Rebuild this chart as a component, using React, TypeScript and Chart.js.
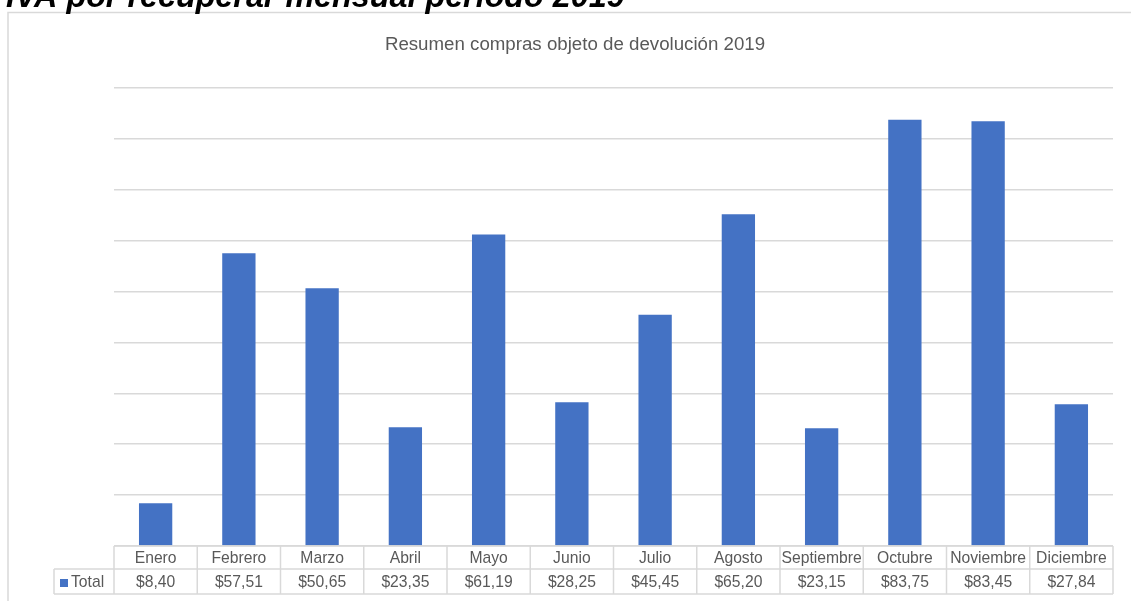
import React, { useEffect, useRef } from "react";
import { Chart, registerables } from "chart.js";

Chart.register(...registerables);

const pageTitle = "IVA por recuperar mensual período 2019";
const chartTitle = "Resumen compras objeto de devolución 2019";
const seriesName = "Total";
const months = [
  "Enero", "Febrero", "Marzo", "Abril", "Mayo", "Junio",
  "Julio", "Agosto", "Septiembre", "Octubre", "Noviembre", "Diciembre",
];
const totals = [8.4, 57.51, 50.65, 23.35, 61.19, 28.25, 45.45, 65.2, 23.15, 83.75, 83.45, 27.84];
const valueLabels = [
  "$8,40", "$57,51", "$50,65", "$23,35", "$61,19", "$28,25",
  "$45,45", "$65,20", "$23,15", "$83,75", "$83,45", "$27,84",
];
const yMax = 90;
const yStep = 10;

const BAR = "#4472C4";
const LINE = "#d9d9d9";
const TEXT = "#595959";
const FONT = '"Liberation Sans", Arial, sans-serif';

const overlay = {
  id: "overlay",
  beforeDraw(chart: any) {
    const ctx = chart.ctx;
    ctx.save();
    ctx.fillStyle = "#ffffff";
    ctx.fillRect(0, 0, chart.width, chart.height);
    ctx.restore();
  },
  afterDraw(chart: any) {
    const ctx = chart.ctx;
    const xs = chart.scales.x;
    const area = chart.chartArea;
    ctx.save();
    // outer chart border
    ctx.strokeStyle = LINE;
    ctx.lineWidth = 1.5;
    ctx.strokeRect(8, 12.5, 1200, 700);

    // page title (cut off at top)
    ctx.fillStyle = "#000000";
    ctx.font = `italic bold 32.3px ${FONT}`;
    ctx.textAlign = "left";
    ctx.textBaseline = "alphabetic";
    ctx.fillText(pageTitle, 6, 7);

    // chart title
    ctx.fillStyle = TEXT;
    ctx.font = `18.7px ${FONT}`;
    ctx.textAlign = "center";
    ctx.textBaseline = "middle";
    ctx.fillText(chartTitle, 575, 45);

    // data table
    const top = area.bottom;
    const mid = top + 23;
    const bot = mid + 25;
    const left = area.left;
    const right = area.right;
    const hdrLeft = 54;
    const n = months.length;
    const cw = (right - left) / n;

    ctx.strokeStyle = LINE;
    ctx.lineWidth = 1.5;
    ctx.beginPath();
    ctx.moveTo(left, top);
    ctx.lineTo(right, top);
    ctx.moveTo(hdrLeft, mid);
    ctx.lineTo(right, mid);
    ctx.moveTo(hdrLeft, bot);
    ctx.lineTo(right, bot);
    ctx.moveTo(hdrLeft, mid);
    ctx.lineTo(hdrLeft, bot);
    for (let i = 0; i <= n; i++) {
      const x = left + i * cw;
      ctx.moveTo(x, top);
      ctx.lineTo(x, bot);
    }
    ctx.stroke();

    ctx.fillStyle = TEXT;
    ctx.font = `15.7px ${FONT}`;
    ctx.textAlign = "center";
    ctx.textBaseline = "middle";
    for (let i = 0; i < n; i++) {
      const cx = xs.getPixelForValue(i);
      ctx.fillText(months[i], cx, (top + mid) / 2 + 1);
      ctx.fillText(valueLabels[i], cx, (mid + bot) / 2 + 1);
    }
    // legend key
    ctx.fillStyle = BAR;
    ctx.fillRect(60, 579, 8, 8);
    ctx.fillStyle = TEXT;
    ctx.textAlign = "left";
    ctx.fillText(seriesName, 71, (mid + bot) / 2 + 1);
    ctx.restore();
  },
};

export default function App() {
  const ref = useRef<HTMLCanvasElement>(null);
  useEffect(() => {
    if (!ref.current) return;
    const chart = new Chart(ref.current, {
      type: "bar",
      data: {
        labels: months,
        datasets: [
          {
            label: seriesName,
            data: totals,
            backgroundColor: BAR,
            borderWidth: 0,
            barPercentage: 0.4,
            categoryPercentage: 1,
          },
        ],
      },
      options: {
        animation: false,
        responsive: false,
        devicePixelRatio: 1,
        layout: { padding: { left: 114, right: 18, top: 88, bottom: 55 } },
        plugins: {
          legend: { display: false },
          title: { display: false },
          tooltip: { enabled: false },
        },
        scales: {
          x: { display: false, offset: true },
          y: {
            min: 0,
            max: yMax,
            ticks: { display: false, stepSize: yStep },
            grid: { color: LINE, lineWidth: 1.5, drawTicks: false },
            border: { display: false },
          },
        },
      },
      plugins: [overlay],
    });
    return () => chart.destroy();
  }, []);
  return (
    <div style={{ position: "fixed", left: 0, top: 0, width: 1131, height: 601 }}>
      <canvas ref={ref} width={1131} height={601} style={{ width: 1131, height: 601 }} />
    </div>
  );
}
